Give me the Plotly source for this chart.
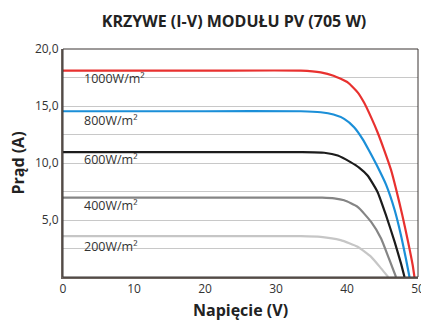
import plotly.graph_objects as go

# Voltage (V) / current (A) points
v_1000 = [0, 20, 33.5, 36.3, 38.1, 40.1, 41.5, 42.4, 43.4, 44.3, 45.2, 46.2, 46.9, 47.8, 48.6, 49.25, 49.5]
i_1000 = [18.1, 18.1, 18.1, 17.95, 17.66, 17.07, 16.2, 15.3, 14.0, 12.7, 11.2, 9.4, 7.75, 5.4, 3.1, 1.05, 0]

v_800 = [0, 20, 33.5, 36.3, 38.1, 39.6, 41.0, 42.2, 43.1, 44.2, 45.5, 46.7, 47.6, 48.3, 48.8]
i_800 = [14.54, 14.54, 14.54, 14.45, 14.25, 13.87, 13.14, 12.1, 11.1, 9.8, 8.1, 5.9, 3.67, 1.6, 0]

v_600 = [0, 20, 33.5, 36.8, 38.7, 40.5, 41.7, 42.9, 44.3, 45.5, 46.7, 47.6, 48.1]
i_600 = [10.95, 10.95, 10.95, 10.9, 10.66, 10.08, 9.6, 8.9, 7.46, 5.4, 3.1, 1.2, 0]

v_400 = [0, 20, 33.5, 36.5, 38.2, 39.6, 41.5, 43.4, 44.8, 45.9, 46.9]
i_400 = [6.97, 6.97, 6.97, 6.96, 6.9, 6.73, 6.15, 4.83, 3.38, 1.63, 0]

v_200 = [0, 20, 33.5, 36.3, 39.1, 41.5, 43.4, 44.8, 45.8]
i_200 = [3.58, 3.58, 3.58, 3.52, 3.23, 2.65, 1.77, 0.76, 0]

labels = ["1000W/m²", "800W/m²", "600W/m²", "400W/m²", "200W/m²"]
label_y = [17.4, 13.7, 10.3, 6.3, 2.7]
label_x = 2.7

x_ticks = [0, 10, 20, 30, 40, 50]
y_ticks = [5, 10, 15, 20]
y_ticktext = ["5,0", "10,0", "15,0", "20,0"]

series = [
    (v_1000, i_1000, "#e8312f"),
    (v_800, i_800, "#1b8fd8"),
    (v_600, i_600, "#1c1c1c"),
    (v_400, i_400, "#858585"),
    (v_200, i_200, "#c6c6c6"),
]

fig = go.Figure()
for (vx, iy, col), name in zip(series, labels):
    fig.add_trace(go.Scatter(
        x=vx, y=iy, mode="lines", name=name,
        line=dict(color=col, width=2.2, shape="spline", smoothing=0.5),
        showlegend=False, hoverinfo="skip", cliponaxis=True,
    ))

font_family = "Open Sans, Noto Sans, sans-serif"
for txt, ly in zip(labels, label_y):
    fig.add_annotation(x=label_x, y=ly, text=txt, showarrow=False,
                       xanchor="left", yanchor="middle",
                       font=dict(family=font_family, size=12.5, color="#333333"))

# frame (top/right)
fig.add_shape(type="rect", xref="paper", yref="paper", x0=0, y0=0, x1=1, y1=1,
              line=dict(color="#3a3532", width=1), layer="above")

fig.update_layout(
    width=421, height=323,
    margin=dict(l=63, r=3, t=49, b=46, autoexpand=False),
    paper_bgcolor="white", plot_bgcolor="white",
    title=dict(text="<b>KRZYWE (I-V) MODUŁU PV (705 W)</b>", x=0.556, xanchor="center",
               y=0.935, yanchor="middle",
               font=dict(family=font_family, size=16, color="#222222")),
    font=dict(family=font_family, size=12, color="#333333"),
    xaxis=dict(range=[0, 50], tickvals=x_ticks, showgrid=False, zeroline=False,
               automargin=False, ticklabeloverflow="allow",
               showline=True, linecolor="#6b625c", linewidth=2, ticks="",
               tickfont=dict(size=12, color="#333333"),
               title=dict(text="<b>Napięcie (V)</b>", standoff=8,
                          font=dict(size=16, color="#222222"))),
    yaxis=dict(range=[0, 20], tickvals=y_ticks, ticktext=y_ticktext,
               automargin=False, ticklabeloverflow="allow",
               showgrid=True, gridcolor="#c8c8c8", gridwidth=1.3,
               minor=dict(dtick=2.5, tick0=0, showgrid=True, gridcolor="#c8c8c8", gridwidth=1.3),
               zeroline=False, showline=True, linecolor="#6b625c", linewidth=2, ticks="",
               tickfont=dict(size=12, color="#333333"),
               title=dict(text="<b>Prąd (A)</b>", standoff=6,
                          font=dict(size=16, color="#222222"))),
)

fig.write_html("out.html", config={"displayModeBar": False},
               post_script="document.body.style.margin='0';")
